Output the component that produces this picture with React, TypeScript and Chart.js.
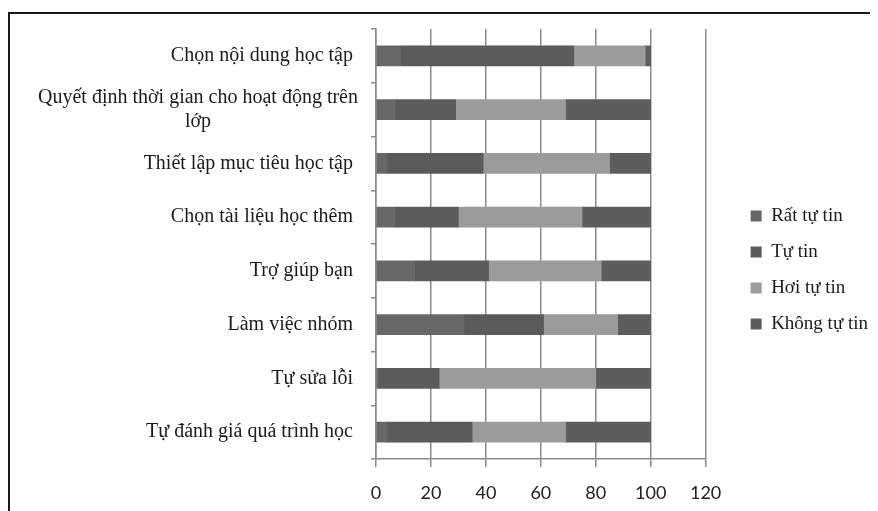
import React, { useEffect, useRef } from 'react';
import { Chart, registerables } from 'chart.js';

Chart.register(...registerables);

const categories: (string | string[])[] = [
  'Chọn nội dung học tập',
  ['Quyết định thời gian cho hoạt động trên', 'lớp'],
  'Thiết lập mục tiêu học tập',
  'Chọn tài liệu học thêm',
  'Trợ giúp bạn',
  'Làm việc nhóm',
  'Tự sửa lỗi',
  'Tự đánh giá quá trình học',
];

const seriesNames = ['Rất tự tin', 'Tự tin', 'Hơi tự tin', 'Không tự tin'];
const ratTuTin = [9, 7, 4, 7, 14, 32, 1, 4];
const tuTin = [63, 22, 35, 23, 27, 29, 22, 31];
const hoiTuTin = [26, 40, 46, 45, 41, 27, 57, 34];
const khongTuTin = [2, 31, 15, 25, 18, 12, 20, 31];
const seriesColors = ['#676767', '#5b5b5b', '#9b9b9b', '#5d5d5d'];

const xMin = 0;
const xMax = 120;
const xStep = 20;

const GRID = '#8a8a8a';
const SERIF = '"Liberation Serif", "Times New Roman", serif';
const LABEL_SIZE = 20;
const LABEL_LINE = 24;

// Nudges the right-hand legend away from the plot area.
const legendOffset = {
  id: 'legendOffset',
  afterLayout(chart: any) {
    const lg = chart.legend;
    if (!lg) return;
    lg.left += 28;
    lg.right += 28;
  },
};

// Category labels: single lines right-aligned, wrapped labels centred as a block.
const categoryLabels = {
  id: 'categoryLabels',
  afterDraw(chart: any) {
    const scale = chart.scales.y;
    const ctx = chart.ctx;
    ctx.save();
    ctx.font = `${LABEL_SIZE}px ${SERIF}`;
    ctx.fillStyle = '#1a1a1a';
    ctx.textBaseline = 'middle';
    const singleRight = scale.right - 23;
    const blockRight = scale.right - 18;
    scale.ticks.forEach((_t: any, i: number) => {
      const raw = categories[i];
      const lines = Array.isArray(raw) ? raw : [raw];
      const y = scale.getPixelForTick(i);
      const widest = Math.max(...lines.map((l) => ctx.measureText(l).width));
      lines.forEach((line, k) => {
        const ly = y + (k - (lines.length - 1) / 2) * LABEL_LINE;
        if (lines.length > 1) {
          ctx.textAlign = 'center';
          ctx.fillText(line, blockRight - widest / 2, ly);
        } else {
          ctx.textAlign = 'right';
          ctx.fillText(line, singleRight, ly);
        }
      });
    });
    ctx.restore();
  },
};

export default function App() {
  const canvasRef = useRef<HTMLCanvasElement | null>(null);

  useEffect(() => {
    if (!canvasRef.current) return;
    const values = [ratTuTin, tuTin, hoiTuTin, khongTuTin];
    const chart = new Chart(canvasRef.current, {
      type: 'bar',
      data: {
        labels: categories,
        datasets: seriesNames.map((name, i) => ({
          label: name,
          data: values[i],
          backgroundColor: seriesColors[i],
          borderWidth: 0,
          barThickness: 20,
        })),
      },
      options: {
        indexAxis: 'y',
        responsive: false,
        animation: false,
        devicePixelRatio: 1,
        layout: { padding: { top: 15, left: 0, right: 28, bottom: 0 } },
        plugins: {
          tooltip: { enabled: false },
          legend: {
            position: 'right',
            labels: {
              boxWidth: 11,
              boxHeight: 11,
              padding: 17,
              color: '#1a1a1a',
              font: { family: SERIF, size: 19 },
            },
          },
        },
        scales: {
          x: {
            stacked: true,
            min: xMin,
            max: xMax,
            ticks: {
              stepSize: xStep,
              color: '#222',
              padding: 15,
              font: { family: 'Lato, "Open Sans", sans-serif', size: 18 },
            },
            grid: {
              color: GRID,
              lineWidth: 1.5,
              tickLength: 8,
              drawTicks: true,
            },
            border: { display: true, color: GRID, width: 1.5 },
            afterFit: (scale: any) => {
              scale.height = 52;
            },
          },
          y: {
            stacked: true,
            ticks: {
              color: 'rgba(0,0,0,0)',
              padding: 13,
              font: { family: SERIF, size: LABEL_SIZE, lineHeight: 1.2 },
            },
            grid: {
              offset: true,
              drawOnChartArea: false,
              drawTicks: true,
              tickLength: 5,
              color: GRID,
              lineWidth: 1.5,
            },
            border: { display: true, color: GRID, width: 1.5 },
            afterFit: (scale: any) => {
              scale.width = 366;
              scale.paddingTop = 0;
              scale.paddingBottom = 0;
            },
          },
        },
      },
      plugins: [legendOffset, categoryLabels],
    } as any);
    return () => chart.destroy();
  }, []);

  return (
    <>
      <style>{'html,body{overflow:hidden;}'}</style>
      <div
        style={{
          marginTop: 4,
          width: 868,
          height: 497,
          borderTop: '2px solid #1a1a1a',
          borderLeft: '2px solid #1a1a1a',
        }}
      >
        <canvas ref={canvasRef} width={868} height={497} style={{ display: 'block' }} />
      </div>
    </>
  );
}
